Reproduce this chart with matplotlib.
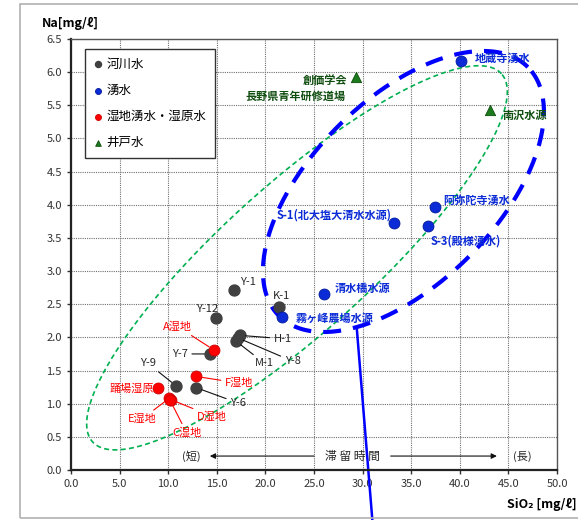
import numpy as np
import matplotlib.pyplot as plt
from matplotlib.patches import Rectangle

plt.rcParams['font.family'] = ['Noto Sans CJK JP', 'DejaVu Sans']

# 河川水
river_names = ['Y-1', 'K-1', 'Y-12', 'H-1', 'Y-8', 'M-1', 'Y-7', 'Y-9', 'Y-6']
river_si = [16.8, 21.4, 14.9, 17.4, 17.2, 17.0, 14.3, 10.8, 12.9]
river_na = [2.72, 2.46, 2.29, 2.03, 1.99, 1.94, 1.75, 1.27, 1.24]

# 湧水
spring_names = ['地蔵寺湧水', '阿弥陀寺湧水', 'S-3(殿様湧水)', 'S-1(北大塩大清水水源)',
                '清水橋水源', '霧ヶ峰農場水源']
spring_si = [40.1, 37.4, 36.7, 33.2, 26.0, 21.7]
spring_na = [6.17, 3.96, 3.68, 3.72, 2.65, 2.31]

# 湿地湧水・湿原水
wet_names = ['A湿地', 'F湿地', '踊場湿原', 'E湿地', 'D湿地', 'C湿地']
wet_si = [14.7, 12.9, 9.0, 10.1, 10.3, 10.2]
wet_na = [1.81, 1.41, 1.23, 1.08, 1.06, 1.05]

# 井戸水
well_names = ['創価学会\n長野県青年研修道場', '南沢水源']
well_si = [29.3, 43.1]
well_na = [5.92, 5.43]

fig = plt.figure(figsize=(5.78, 5.2), dpi=100)
ax = fig.add_axes([0.1228, 0.0962, 0.8409, 0.8288])
fig.patches.append(Rectangle((0.035, 0.004), 1.0, 0.988, transform=fig.transFigure,
                             fill=False, edgecolor='#B0B0B0', lw=1.2))

ax.set_xlim(0, 50)
ax.set_ylim(0, 6.5)
ax.set_xticks(np.arange(0, 50.1, 5))
ax.set_yticks(np.arange(0, 6.51, 0.5))
ax.set_xticklabels([f'{v:.1f}' for v in np.arange(0, 50.1, 5)])
ax.set_yticklabels([f'{v:.1f}' for v in np.arange(0, 6.51, 0.5)])
ax.tick_params(labelsize=8, colors='#333333', length=3, width=1, direction='out')
ax.grid(True, linestyle=(0, (1, 1)), color='#707070', lw=0.8)
ax.set_axisbelow(True)
for s in ['left', 'bottom']:
    ax.spines[s].set_linewidth(1.6)
    ax.spines[s].set_color('#222222')
for s in ['top', 'right']:
    ax.spines[s].set_linewidth(1.0)
    ax.spines[s].set_color('#555555')

fig.text(0.073, 0.954, 'Na[mg/ℓ]', fontsize=9, fontweight='bold', va='center', ha='left')
fig.text(0.998, 0.029, 'SiO₂ [mg/ℓ]', fontsize=9, fontweight='bold', va='center', ha='right')

# ratio of screen length per y unit to screen length per x unit
k = (0.8288 * 520 / 6.5) / (0.8409 * 578 / 50)


def ellipse(cx, cy, a, b, ang):
    t = np.linspace(0, 2 * np.pi, 400)
    r = np.radians(ang)
    u = a * np.cos(t)
    v = b * np.sin(t)
    x = cx + u * np.cos(r) - v * np.sin(r)
    y = cy * k + u * np.sin(r) + v * np.cos(r)
    return x, y / k


gx, gy = ellipse(23.25, 3.2, 28.3, 7.6, 42)
ax.plot(gx, gy, color='#00B050', lw=1.2, dashes=(3, 2), zorder=2)
bx, by = ellipse(34.2, 4.2, 18.1, 9.5, 45)
ax.plot(bx, by, color='#0000FF', lw=3.0, dashes=(4.3, 2.9), zorder=2)

# line running down from 霧ヶ峰農場水源 past the axis
ax.plot([29.4, 31.0], [2.14, -0.75], color='#0000FF', lw=1.8, clip_on=False, zorder=2)

ax.scatter(river_si, river_na, s=62, color='#404040', zorder=4, label='河川水')
ax.scatter(spring_si, spring_na, s=62, color='#0A2BD6', edgecolor='#001a99', lw=0.6,
           zorder=4, label='湧水')
ax.scatter(wet_si, wet_na, s=62, color='#FF0000', edgecolor='#cc0000', lw=0.6,
           zorder=4, label='湿地湧水・湿原水')
ax.scatter(well_si, well_na, s=55, marker='^', color='#1B7A1B', edgecolor='#0d4d0d',
           lw=0.6, zorder=4, label='井戸水')

# labels for 河川水
river_pos = {'Y-1': (17.4, 2.84, 'left', False), 'K-1': (21.7, 2.62, 'center', False),
             'Y-12': (14.0, 2.43, 'center', False), 'H-1': (21.8, 1.98, 'center', True),
             'Y-8': (22.8, 1.64, 'center', True), 'M-1': (19.9, 1.61, 'center', True),
             'Y-7': (11.2, 1.75, 'center', True), 'Y-9': (7.9, 1.61, 'center', True),
             'Y-6': (17.2, 1.01, 'center', True)}
for name, x, y in zip(river_names, river_si, river_na):
    tx, ty, ha, lead = river_pos[name]
    ap = dict(arrowstyle='-', color='#111111', lw=0.8, shrinkA=1, shrinkB=4) if lead else None
    ax.annotate(name, (x, y), (tx, ty), ha=ha, va='center', fontsize=8,
                color='#262626', arrowprops=ap, zorder=5)

# labels for 湿地
wet_pos = {'A湿地': (11.0, 2.16, True), 'F湿地': (17.3, 1.31, True),
           '踊場湿原': (6.3, 1.22, False), 'E湿地': (7.3, 0.77, True),
           'D湿地': (14.5, 0.81, True), 'C湿地': (11.9, 0.56, True)}
for name, x, y in zip(wet_names, wet_si, wet_na):
    tx, ty, lead = wet_pos[name]
    ap = dict(arrowstyle='-', color='#FF0000', lw=0.8, shrinkA=1, shrinkB=4) if lead else None
    ax.annotate(name, (x, y), (tx, ty), ha='center', va='center', fontsize=8,
                color='#FF0000', arrowprops=ap, zorder=5)

# labels for 湧水
spring_pos = [(44.4, 6.2, 'center'), (41.7, 4.07, 'center'), (40.6, 3.45, 'center'),
              (33.0, 3.85, 'right'), (30.0, 2.73, 'center'), (27.1, 2.28, 'center')]
for name, (tx, ty, ha) in zip(spring_names, spring_pos):
    ax.text(tx, ty, name, ha=ha, va='center', fontsize=8, fontweight='bold',
            color='#0A2BD6', zorder=5)

# labels for 井戸水
ax.text(28.4, 5.87, '創価学会', ha='right', va='center', fontsize=8,
        fontweight='bold', color='#104E10', zorder=5)
ax.text(23.15, 5.63, '長野県青年研修道場', ha='center', va='center', fontsize=8,
        fontweight='bold', color='#104E10', zorder=5)
ax.text(46.7, 5.35, well_names[1], ha='center', va='center', fontsize=8,
        fontweight='bold', color='#104E10', zorder=5)

# residence time arrow
ax.text(12.4, 0.21, '(短)', ha='center', va='center', fontsize=8, color='#262626')
ax.text(46.4, 0.21, '(長)', ha='center', va='center', fontsize=8, color='#262626')
ax.text(29.0, 0.21, '滞 留 時 間', ha='center', va='center', fontsize=8.5, color='#262626')
arrow = dict(arrowstyle='-|>', color='#111111', lw=0.8, mutation_scale=8)
ax.annotate('', (14.0, 0.21), (25.3, 0.21), arrowprops=arrow)
ax.annotate('', (44.1, 0.21), (32.6, 0.21), arrowprops=arrow)

leg = ax.legend(loc='upper left', bbox_to_anchor=(0.029, 0.977), borderaxespad=0,
                fontsize=9, fancybox=False, edgecolor='#333333', framealpha=1,
                handlelength=0.7, handletextpad=0.3, labelspacing=1.05,
                borderpad=0.7, markerscale=0.55)
leg.get_frame().set_linewidth(1.0)
leg.set_zorder(6)

fig.savefig('out.png', dpi=100)
